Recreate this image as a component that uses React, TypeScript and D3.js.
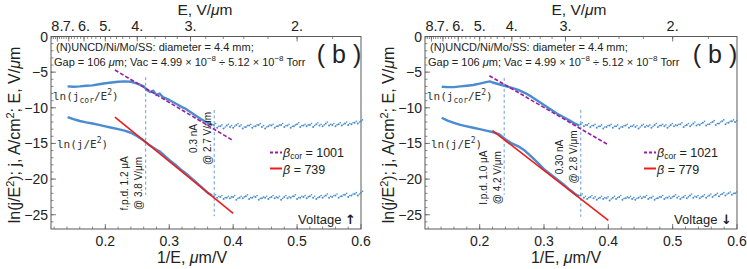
import React from "react";
import * as d3 from "d3";

const X_DOMAIN: [number, number] = [0.115, 0.6];
const Y_DOMAIN: [number, number] = [-27, 0];
const xMajorTicks = [0.2, 0.3, 0.4, 0.5, 0.6];
const xMinorTicks = d3.range(0.12, 0.6, 0.02);
const yMajorTicks = [0, -5, -10, -15, -20, -25];
const yMinorTicks = d3.range(-26, 0, 1);
const eMajorTicks = [8, 7, 6, 5, 4, 3, 2];
const eMinorTicks = d3.range(1.8, 8.7, 0.2);

// Left panel (Voltage up)
const upperDenseL: [number, number][] = [
  [0.141, -7.0], [0.15, -7.05], [0.16, -7.0], [0.17, -6.9], [0.18, -6.85], [0.19, -6.7],
  [0.2, -6.55], [0.21, -6.45], [0.22, -6.35], [0.23, -6.3], [0.24, -6.35], [0.25, -6.6],
  [0.26, -7.0], [0.265, -7.5], [0.27, -7.8], [0.275, -7.6], [0.28, -8.2], [0.285, -8.0],
  [0.29, -8.5], [0.3, -8.9], [0.31, -9.4], [0.32, -9.9], [0.325, -10.1], [0.33, -10.4],
  [0.34, -11.0], [0.35, -11.6], [0.36, -12.1], [0.367, -12.4],
];
const lowerDenseL: [number, number][] = [
  [0.141, -11.3], [0.15, -11.6], [0.16, -11.85], [0.17, -12.05], [0.18, -12.2], [0.19, -12.4],
  [0.2, -12.6], [0.21, -12.8], [0.22, -13.0], [0.23, -13.2], [0.24, -13.5], [0.25, -14.0],
  [0.26, -14.6], [0.27, -15.3], [0.28, -15.9], [0.285, -16.1], [0.29, -16.5], [0.3, -17.3],
  [0.31, -18.0], [0.32, -18.8], [0.33, -19.5], [0.34, -20.3], [0.35, -21.1], [0.36, -21.9],
  [0.367, -22.3],
];
const flatXL = d3.range(0.37, 0.6001, 0.005);
const upperFlatL = [
  -12.4, -12.8, -12.6, -12.9, -12.5, -12.7, -12.8, -12.4, -12.6, -12.9,
  -12.7, -12.5, -12.8, -12.6, -12.4, -12.7, -12.9, -12.6, -12.5, -12.8,
  -12.6, -12.4, -12.7, -12.5, -12.8, -12.6, -12.3, -12.7, -12.5, -12.6,
  -12.4, -12.7, -12.3, -12.5, -12.6, -12.2, -12.5, -12.4, -12.6, -12.3,
  -12.5, -12.2, -12.4, -12.3, -12.1, -12.2, -11.9,
];
const lowerFlatL = [
  -22.4, -22.6, -22.5, -22.8, -22.6, -22.7, -22.5, -22.9, -22.6, -22.7,
  -22.4, -22.8, -22.6, -22.5, -22.9, -22.7, -22.6, -22.8, -22.5, -22.7,
  -22.6, -22.9, -22.5, -22.7, -22.6, -22.4, -22.8, -22.6, -22.5, -22.7,
  -22.4, -22.6, -22.8, -22.5, -22.6, -22.3, -22.6, -22.5, -22.3, -22.6,
  -22.4, -22.2, -22.5, -22.3, -22.1, -22.3, -21.9,
];
const fitBetaL: [number, number][] = [[0.215, -11.3], [0.4, -24.8]];
const fitBetaCorL: [number, number][] = [[0.215, -4.7], [0.4, -14.6]];
const vlinesL = [
  { x: 1 / 3.8, y0: -5.7, y1: -22.2 },
  { x: 1 / 2.7, y0: -10.3, y1: -25.2 },
];
const annotL = [
  { lines: ["f.p.d. 1.2 \u03bcA", "@ 3.8 V/\u03bcm"], y: -20.6 },
  { lines: ["0.3 nA", "@ 2.7 V/\u03bcm"], y: -14.3 },
];
const legendL = ["1001", "739"];

// Right panel (Voltage down)
const upperDenseR: [number, number][] = [
  [0.141, -7.05], [0.15, -7.1], [0.16, -7.1], [0.17, -7.0], [0.18, -6.9], [0.19, -6.8],
  [0.2, -6.6], [0.21, -6.4], [0.216, -6.3], [0.22, -6.45], [0.23, -6.7], [0.24, -6.95],
  [0.25, -7.2], [0.26, -7.5], [0.27, -7.9], [0.28, -8.4], [0.29, -9.0], [0.3, -9.6],
  [0.31, -10.2], [0.32, -10.8], [0.33, -11.3], [0.34, -11.8], [0.35, -12.3], [0.355, -12.5],
];
const lowerDenseR: [number, number][] = [
  [0.141, -11.4], [0.15, -11.8], [0.16, -12.1], [0.17, -12.4], [0.18, -12.6], [0.19, -12.8],
  [0.2, -13.0], [0.21, -13.2], [0.22, -13.4], [0.23, -13.7], [0.24, -14.4], [0.25, -15.0],
  [0.26, -15.4], [0.27, -16.0], [0.28, -16.8], [0.29, -17.7], [0.3, -18.6], [0.31, -19.3],
  [0.32, -20.0], [0.33, -20.7], [0.34, -21.5], [0.35, -22.2], [0.355, -22.4],
];
const flatXR = d3.range(0.357, 0.6001, 0.005);
const upperFlatR = [
  -12.3, -12.6, -12.4, -12.7, -12.5, -12.8, -12.6, -12.9, -12.7, -12.5,
  -12.8, -12.6, -12.9, -12.7, -12.5, -12.8, -12.6, -12.7, -12.9, -12.5,
  -12.7, -12.6, -12.8, -12.4, -12.7, -12.5, -12.6, -12.8, -12.4, -12.6,
  -12.5, -12.3, -12.7, -12.4, -12.6, -12.2, -12.5, -12.4, -12.1, -12.5,
  -12.3, -12.0, -12.4, -12.2, -11.9, -12.3, -12.1, -11.9, -12.0,
];
const lowerFlatR = [
  -22.3, -22.6, -22.8, -22.5, -22.7, -22.9, -22.6, -22.8, -22.7, -23.0,
  -22.6, -22.8, -22.5, -22.9, -22.7, -22.6, -22.8, -22.9, -22.6, -22.7,
  -22.5, -22.8, -22.6, -22.9, -22.7, -22.5, -22.8, -22.6, -22.7, -22.4,
  -22.6, -22.8, -22.5, -22.7, -22.3, -22.6, -22.5, -22.7, -22.4, -22.6,
  -22.3, -22.5, -22.2, -22.4, -22.1, -22.3, -22.0, -22.2, -22.0,
];
const fitBetaR: [number, number][] = [[0.22, -13.2], [0.4, -25.8]];
const fitBetaCorR: [number, number][] = [[0.215, -5.5], [0.4, -15.2]];
const vlinesR = [
  { x: 1 / 4.2, y0: -5.8, y1: -22.2 },
  { x: 1 / 2.8, y0: -10.3, y1: -25.3 },
];
const annotR = [
  { lines: ["I.p.d. 1.0 \u03bcA", "@ 4.2 V/\u03bcm"], y: -19.8 },
  { lines: ["0.30 nA", "@ 2.8 V/\u03bcm"], y: -16.9 },
];
const legendR = ["1021", "779"];

const BLUE = "#4a8ccf";
const RED = "#ee1c1c";
const PURPLE = "#9a1f9e";
const FRAME = "#5a5a5a";
const SANS = "Liberation Sans, Arial, sans-serif";
const MONO = "DejaVu Sans Mono, monospace";

type PanelProps = {
  ox: number;
  x0: number;
  x1: number;
  upperDense: [number, number][];
  lowerDense: [number, number][];
  flatX: number[];
  upperFlat: number[];
  lowerFlat: number[];
  fitBeta: [number, number][];
  fitBetaCor: [number, number][];
  vlines: { x: number; y0: number; y1: number }[];
  annot: { lines: string[]; y: number }[];
  legend: string[];
  voltage: string;
  arrow: string;
};

function Panel(p: PanelProps) {
  const top = 36.5;
  const bottom = 229;
  const x = d3.scaleLinear().domain(X_DOMAIN).range([p.x0, p.x1]);
  const y = d3.scaleLinear().domain(Y_DOMAIN).range([bottom, top]);
  const line = d3
    .line<[number, number]>()
    .x((d) => x(d[0]))
    .y((d) => y(d[1]));
  const ox = p.ox;
  return (
    <g>
      <rect x={p.x0} y={top} width={p.x1 - p.x0} height={bottom - top} fill="none" stroke={FRAME} strokeWidth={1} />
      {xMinorTicks.map((t, i) => (
        <line key={"bm" + i} x1={x(t)} x2={x(t)} y1={bottom} y2={bottom - 2.5} stroke={FRAME} strokeWidth={0.7} />
      ))}
      {xMajorTicks.map((t) => (
        <g key={"bx" + t}>
          <line x1={x(t)} x2={x(t)} y1={bottom} y2={bottom - 5} stroke={FRAME} strokeWidth={0.8} />
          <text x={x(t)} y={bottom + 17} textAnchor="middle" fontSize={14} fontFamily={SANS} fill="#222">
            {t.toFixed(1)}
          </text>
        </g>
      ))}
      {yMinorTicks.map((t) => (
        <line key={"lm" + t} x1={p.x0} x2={p.x0 + 2.5} y1={y(t)} y2={y(t)} stroke={FRAME} strokeWidth={0.7} />
      ))}
      {yMajorTicks.map((t) => (
        <g key={"ly" + t}>
          <line x1={p.x0} x2={p.x0 + 5} y1={y(t)} y2={y(t)} stroke={FRAME} strokeWidth={0.8} />
          <text x={p.x0 - 3} y={y(t) + 5} textAnchor="end" fontSize={14} fontFamily={SANS} fill="#222">
            {t === 0 ? "0" : "\u2212" + Math.abs(t)}
          </text>
        </g>
      ))}
      {eMinorTicks.map((e, i) => (
        <line key={"tm" + i} x1={x(1 / e)} x2={x(1 / e)} y1={top} y2={top + 2.5} stroke={FRAME} strokeWidth={0.7} />
      ))}
      {eMajorTicks.map((e) => (
        <g key={"te" + e}>
          <line x1={x(1 / e)} x2={x(1 / e)} y1={top} y2={top + 5} stroke={FRAME} strokeWidth={0.8} />
          <text x={x(1 / e)} y={top - 6} textAnchor="middle" fontSize={14.5} fontFamily={SANS} fill="#222">
            {e + "."}
          </text>
        </g>
      ))}
      <text x={ox + 205} y={15} textAnchor="middle" fontSize={15.5} fontFamily={SANS} fill="#222">
        E, V/<tspan fontStyle="italic">{"\u03bc"}</tspan>m
      </text>
      <text x={ox + 192} y={263} textAnchor="middle" fontSize={16} fontFamily={SANS} fill="#222">
        1/E, <tspan fontStyle="italic">{"\u03bc"}</tspan>m/V
      </text>
      <text
        transform={`translate(${ox + 20},${135}) rotate(-90)`}
        textAnchor="middle"
        fontSize={16}
        fontFamily={SANS}
        fill="#222"
      >
        ln(j/E<tspan dy={-6} fontSize={11}>2</tspan>
        <tspan dy={6}>); j, A/cm</tspan>
        <tspan dy={-6} fontSize={11}>2</tspan>
        <tspan dy={6}>; E, V/</tspan>
        <tspan fontStyle="italic">{"\u03bc"}</tspan>m
      </text>
      <text x={p.x0 + 5} y={51} fontSize={11} fontFamily={SANS} fill="#222">
        (N)UNCD/Ni/Mo/SS: diameter = 4.4 mm;
      </text>
      <text x={p.x0 + 3} y={66} fontSize={11} fontFamily={SANS} fill="#222">
        Gap = 106 <tspan fontStyle="italic">{"\u03bc"}</tspan>m; Vac = 4.99
        {" \u00d7 "}10<tspan dy={-5} fontSize={8}>{"\u22128"}</tspan>
        <tspan dy={5}>{" \u00f7 5.12 \u00d7 10"}</tspan>
        <tspan dy={-5} fontSize={8}>{"\u22128"}</tspan>
        <tspan dy={5}> Torr</tspan>
      </text>
      <text x={p.x1 - 22} y={63} textAnchor="middle" fontSize={25} fontFamily={SANS} fill="#222">
        ( b )
      </text>
      {p.vlines.map((v, i) => (
        <line
          key={"vl" + i}
          x1={x(v.x)}
          x2={x(v.x)}
          y1={y(v.y0)}
          y2={y(v.y1)}
          stroke="#6a9fd8"
          strokeWidth={1}
          strokeDasharray="3,2.5"
        />
      ))}
      <path d={line(p.upperDense) || ""} fill="none" stroke={BLUE} strokeWidth={2.4} strokeLinejoin="round" />
      <path d={line(p.lowerDense) || ""} fill="none" stroke={BLUE} strokeWidth={2.4} strokeLinejoin="round" />
      {p.flatX.map((fx, i) => (
        <g key={"fl" + i}>
          <circle cx={x(fx)} cy={y(p.upperFlat[i])} r={1} fill={BLUE} />
          <circle cx={x(fx + 0.0025)} cy={y(p.upperFlat[i] + 0.2)} r={0.8} fill={BLUE} />
          <circle cx={x(fx)} cy={y(p.lowerFlat[i])} r={1} fill={BLUE} />
          <circle cx={x(fx + 0.0025)} cy={y(p.lowerFlat[i] + 0.2)} r={0.8} fill={BLUE} />
        </g>
      ))}
      <path d={line(p.fitBetaCor) || ""} fill="none" stroke={PURPLE} strokeWidth={1.6} strokeDasharray="4,2" />
      <path d={line(p.fitBeta) || ""} fill="none" stroke={RED} strokeWidth={1.6} />
      <text x={p.x0 + 2} y={100} fontSize={11} fontFamily={MONO} fill="#333">
        ln(j<tspan dy={3} fontSize={8}>cor</tspan>
        <tspan dy={-3}>/E</tspan>
        <tspan dy={-5} fontSize={8}>2</tspan>
        <tspan dy={5}>)</tspan>
      </text>
      <text x={p.x0 + 6} y={148} fontSize={11} fontFamily={MONO} fill="#333">
        ln(j/E<tspan dy={-5} fontSize={8}>2</tspan>
        <tspan dy={5}>)</tspan>
      </text>
      {p.annot.map((a, i) => {
        const vx = x(p.vlines[i].x);
        return (
          <g key={"an" + i}>
            {a.lines.map((s, j) => (
              <text
                key={j}
                transform={`translate(${vx - 21 + j * 14},${y(a.y)}) rotate(-90)`}
                textAnchor="middle"
                dominantBaseline="central"
                fontSize={10}
                fontFamily={SANS}
                fill="#222"
              >
                {s}
              </text>
            ))}
          </g>
        );
      })}
      <line x1={ox + 270} x2={ox + 282} y1={152.5} y2={152.5} stroke={PURPLE} strokeWidth={2} strokeDasharray="3,2" />
      <text x={ox + 283} y={157} fontSize={12.5} fontFamily={SANS} fill="#222">
        <tspan fontStyle="italic">{"\u03b2"}</tspan>
        <tspan dy={2} fontSize={8.5}>cor</tspan>
        <tspan dy={-2}>{" = " + p.legend[0]}</tspan>
      </text>
      <line x1={ox + 270} x2={ox + 282} y1={168.5} y2={168.5} stroke={RED} strokeWidth={2} />
      <text x={ox + 283} y={173.5} fontSize={12.5} fontFamily={SANS} fill="#222">
        <tspan fontStyle="italic">{"\u03b2"}</tspan>
        {" = " + p.legend[1]}
      </text>
      <text x={p.x1 - 5} y={224} textAnchor="end" fontSize={13} fontFamily={SANS} fill="#222">
        {p.voltage + " "}
        <tspan fontFamily="DejaVu Sans, sans-serif" fontWeight="bold" fontSize={13}>
          {p.arrow}
        </tspan>
      </text>
    </g>
  );
}

export default function App() {
  return (
    <svg
      width={747}
      height={269}
      viewBox="0 0 747 269"
      style={{ position: "absolute", left: 0, top: 0, background: "#fff", display: "block" }}
    >
      <rect width={747} height={269} fill="#fff" />
      <Panel
        ox={0}
        x0={51}
        x1={361}
        upperDense={upperDenseL}
        lowerDense={lowerDenseL}
        flatX={flatXL}
        upperFlat={upperFlatL}
        lowerFlat={lowerFlatL}
        fitBeta={fitBetaL}
        fitBetaCor={fitBetaCorL}
        vlines={vlinesL}
        annot={annotL}
        legend={legendL}
        voltage={"Voltage"}
        arrow={"\u2191"}
      />
      <Panel
        ox={374}
        x0={425}
        x1={737}
        upperDense={upperDenseR}
        lowerDense={lowerDenseR}
        flatX={flatXR}
        upperFlat={upperFlatR}
        lowerFlat={lowerFlatR}
        fitBeta={fitBetaR}
        fitBetaCor={fitBetaCorR}
        vlines={vlinesR}
        annot={annotR}
        legend={legendR}
        voltage={"Voltage"}
        arrow={"\u2193"}
      />
    </svg>
  );
}
